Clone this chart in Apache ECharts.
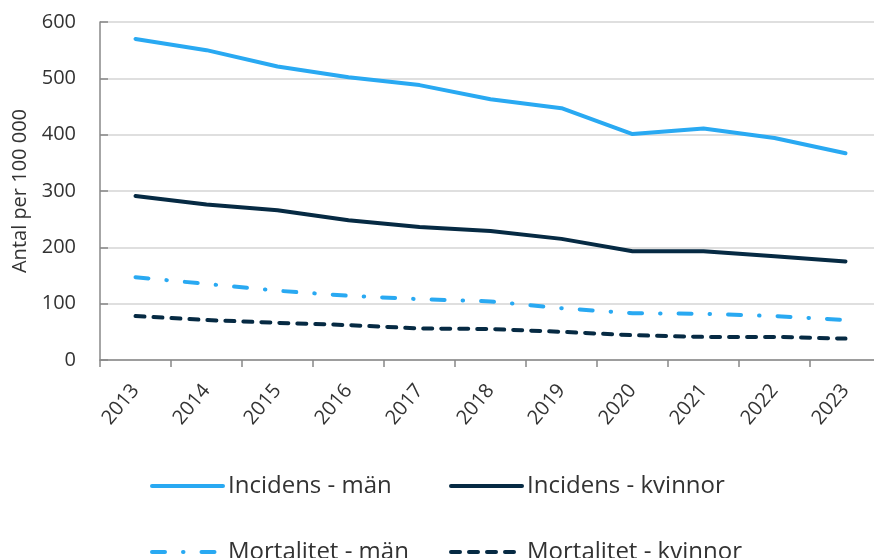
<!DOCTYPE html>
<html>
<head>
<meta charset="utf-8">
<script src="https://cdn.jsdelivr.net/npm/echarts@6/dist/echarts.min.js"></script>
<style>
  html, body { margin: 0; padding: 0; background: #fff; }
  #chart { width: 874px; height: 558px; }
</style>
</head>
<body>
<div id="chart"></div>
<script>
// Incidence and mortality per 100 000, 2013-2023.
const years = ["2013", "2014", "2015", "2016", "2017", "2018", "2019", "2020", "2021", "2022", "2023"];
const incidensMan = [570, 550, 521, 502, 488, 463, 447, 401, 411, 394, 367];
const incidensKvinnor = [291, 276, 266, 248, 236, 229, 215, 193, 193, 184, 175];
const mortalitetMan = [147, 135, 123, 114, 108, 104, 92, 83, 82, 78, 71];
const mortalitetKvinnor = [78, 71, 66, 62, 56, 55, 50, 44, 41, 41, 38];

const LIGHT = "#29a9f2";
const DARK = "#062a43";
const FONT = "'Open Sans', 'Noto Sans', sans-serif";

const chart = echarts.init(document.getElementById("chart"));

function lineSeries(name, data, color, type) {
  return {
    name,
    type: "line",
    data,
    symbol: "none",
    smooth: false,
    lineStyle: { color, width: 4, type, cap: "round", join: "round" },
    itemStyle: { color },
  };
}

// One legend per item so the two columns line up like the original.
function legendItem(name, left, top) {
  return {
    data: [name],
    left,
    top,
    itemWidth: 71,
    itemHeight: 10,
    itemStyle: { opacity: 0 },
    lineStyle: { width: 4, cap: "round" },
    textStyle: { fontFamily: FONT, fontSize: 24, color: "#333", lineHeight: 28 },
  };
}

chart.setOption({
  animation: false,
  grid: { left: 100, top: 22, width: 781, height: 338, containLabel: false, outerBoundsMode: "none" },
  legend: [
    legendItem("Incidens - män", 145, 467),
    legendItem("Incidens - kvinnor", 444, 467),
    legendItem("Mortalitet - män", 145, 533),
    legendItem("Mortalitet - kvinnor", 444, 533),
  ],
  xAxis: {
    type: "category",
    data: years,
    boundaryGap: true,
    axisLine: { lineStyle: { color: "#888", width: 1.5 } },
    axisTick: { show: true, length: 7, lineStyle: { color: "#888", width: 1.5 } },
    axisLabel: { rotate: 50, margin: 27, fontFamily: FONT, fontSize: 20, color: "#333" },
    splitLine: { show: false },
  },
  yAxis: {
    type: "value",
    min: 0,
    max: 600,
    interval: 100,
    name: "Antal per 100 000",
    nameLocation: "middle",
    nameGap: 70,
    nameTextStyle: { fontFamily: FONT, fontSize: 20, color: "#333" },
    axisLine: { show: true, lineStyle: { color: "#888", width: 1.5 } },
    axisTick: { show: true, inside: true, length: 8, lineStyle: { color: "#888", width: 1.5 } },
    axisLabel: { margin: 24, fontFamily: FONT, fontSize: 20, color: "#333" },
    splitLine: { lineStyle: { color: "#d4d4d4", width: 1.5 } },
  },
  series: [
    lineSeries("Incidens - män", incidensMan, LIGHT, "solid"),
    lineSeries("Incidens - kvinnor", incidensKvinnor, DARK, "solid"),
    lineSeries("Mortalitet - män", mortalitetMan, LIGHT, [13, 18, 0.5, 18]),
    lineSeries("Mortalitet - kvinnor", mortalitetKvinnor, DARK, [9, 9]),
  ],
});
</script>
</body>
</html>
